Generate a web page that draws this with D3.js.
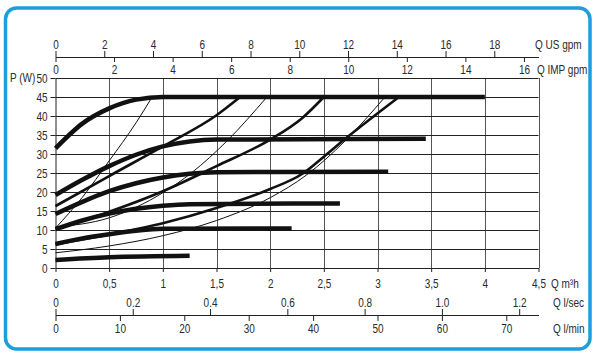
<!DOCTYPE html>
<html><head><meta charset="utf-8">
<script src="https://cdn.jsdelivr.net/npm/d3@7"></script>
<style>
html,body{margin:0;padding:0;background:#fff;}
svg{display:block;}
text{font-family:"Liberation Sans",Arial,Helvetica,sans-serif;fill:#2a2a2a;font-size:12.5px;}
</style></head><body>
<svg id="c" width="594" height="354"></svg>
<script>
// ---- axis ticks / labels ----
const qM3hTicks = [0, 0.5, 1, 1.5, 2, 2.5, 3, 3.5, 4, 4.5];
const qM3hLabels = ["0", "0,5", "1", "1,5", "2", "2,5", "3", "3,5", "4", "4,5"];
const pTicks = [0, 5, 10, 15, 20, 25, 30, 35, 40, 45, 50];
const usGpmTicks = [0, 2, 4, 6, 8, 10, 12, 14, 16, 18];
const impGpmTicks = [0, 2, 4, 6, 8, 10, 12, 14, 16];
const lsecTicks = [0, 0.2, 0.4, 0.6, 0.8, 1.0, 1.2];
const lsecLabels = ["0", "0.2", "0.4", "0.6", "0.8", "1.0", "1.2"];
const lminTicks = [0, 10, 20, 30, 40, 50, 60, 70];

// ---- curves: [Q m3/h, P W] ----
const speedA = [[0,31.5],[0.25,38],[0.5,42],[0.75,44.3],[1.0,45],[4.0,45]];
const speedB = [[0,19.2],[0.25,23.2],[0.5,26.8],[0.75,29.8],[1.0,32],[1.25,33.3],[1.5,33.8],[3.45,34]];
const speedC = [[0,14.2],[0.25,17.4],[0.5,20.2],[0.75,22.3],[1.0,23.8],[1.25,24.8],[1.5,25.2],[3.1,25.3]];
const speedD = [[0,10.2],[0.25,12.5],[0.5,14.3],[0.75,15.6],[1.0,16.4],[1.25,16.8],[2.65,17]];
const speedE = [[0,6.3],[0.25,7.8],[0.5,8.9],[0.75,9.8],[1.0,10.3],[2.2,10.4]];
const speedF = [[0,2.1],[0.5,2.8],[1.25,3.2]];
const ctrl1 = [[0,16.3],[0.5,24.2],[1.0,32],[1.5,40.2],[1.72,45]];
const ctrl2 = [[0,10.3],[0.5,14.8],[1.0,20.2],[1.5,26.8],[2.0,33.8],[2.3,39.5],[2.5,45]];
const ctrl3 = [[0,6.2],[0.5,8.8],[1.0,11.8],[1.5,15.8],[2.0,20.8],[2.3,24.8],[2.5,29.3],[2.7,34],[3.2,45]];
const thin1 = [[0,10.5],[0.25,18.6],[0.5,28.2],[0.75,38.2],[0.9,45]];
const thin2 = [[0,10.8],[0.5,13.2],[1.0,19.8],[1.27,25.1],[1.6,33.5],[1.97,45]];
const thin3 = [[0,4],[0.5,5.8],[1.0,8.5],[1.5,12.5],[2.0,18.5],[2.34,24.5],[2.7,33.5],[3.07,45]];

const SX = 0.8; // condensed look
const svg = d3.select("#c");
const X0 = 55.5, X1 = 538.5, Y0 = 268, Y1 = 78;
const x = d3.scaleLinear().domain([0, 4.5]).range([X0, X1]);
const y = d3.scaleLinear().domain([0, 50]).range([Y0, Y1]);
const xUS = d3.scaleLinear().domain([0, 4.5 * 4.403]).range([X0, X1]);
const xIMP = d3.scaleLinear().domain([0, 4.5 * 3.666]).range([X0, X1]);
const xLs = d3.scaleLinear().domain([0, 4.5 / 3.6]).range([X0, X1]);
const xLm = d3.scaleLinear().domain([0, 4.5 / 0.06]).range([X0, X1]);

// frame
svg.append("rect").attr("x", 5.5).attr("y", 8).attr("width", 584.5).attr("height", 341)
  .attr("rx", 11).attr("fill", "#fff").attr("stroke", "#1e9fda").attr("stroke-width", 3.5);

// grid
svg.append("g").selectAll("line").data(qM3hTicks.slice(1)).join("line")
  .attr("x1", d => Math.round(x(d)) + 0.5).attr("x2", d => Math.round(x(d)) + 0.5)
  .attr("y1", Y1).attr("y2", Y0).attr("stroke", "#555").attr("stroke-width", 1);
svg.append("g").selectAll("line").data(pTicks.slice(1)).join("line")
  .attr("x1", X0).attr("x2", X1).attr("y1", d => Math.round(y(d)) + 0.5).attr("y2", d => Math.round(y(d)) + 0.5)
  .attr("stroke", "#222").attr("stroke-width", 1);

function styleAxis(g) {
  g.selectAll("path,line").attr("stroke", "#222");
  g.selectAll("text").attr("font-size", 12.5).attr("fill", "#2a2a2a").attr("font-family", null)
    .each(function () {
      const t = d3.select(this);
      const xx = +t.attr("x") || 0;
      t.attr("x", xx / SX).attr("transform", `scale(${SX},1)`);
    });
}

// left axis
svg.append("g").attr("transform", `translate(${X0},0)`)
  .call(d3.axisLeft(y).tickValues(pTicks).tickSize(5).tickSizeOuter(0).tickPadding(3))
  .call(styleAxis);
// bottom m3/h axis
svg.append("g").attr("transform", `translate(0,${Y0})`)
  .call(d3.axisBottom(x).tickValues(qM3hTicks).tickFormat((d, i) => qM3hLabels[i]).tickSize(4).tickSizeOuter(0).tickPadding(7))
  .call(styleAxis);

// top gpm axes
const TOPY = 57;
svg.append("g").attr("transform", `translate(0,${TOPY})`)
  .call(d3.axisTop(xUS).tickValues(usGpmTicks).tickFormat(d3.format("d")).tickSize(6).tickSizeOuter(0).tickPadding(2))
  .call(styleAxis);
svg.append("g").attr("transform", `translate(0,${TOPY})`)
  .call(d3.axisBottom(xIMP).tickValues(impGpmTicks).tickFormat(d3.format("d")).tickSize(5).tickSizeOuter(0).tickPadding(3))
  .call(styleAxis).call(g => g.select(".domain").remove());

// bottom l/sec, l/min axes
const BOTY = 315;
svg.append("g").attr("transform", `translate(0,${BOTY})`)
  .call(d3.axisTop(xLs).tickValues(lsecTicks).tickFormat((d, i) => lsecLabels[i]).tickSize(6).tickSizeOuter(0).tickPadding(2))
  .call(styleAxis);
svg.append("g").attr("transform", `translate(0,${BOTY})`)
  .call(d3.axisBottom(xLm).tickValues(lminTicks).tickFormat(d3.format("d")).tickSize(6).tickSizeOuter(0).tickPadding(3))
  .call(styleAxis).call(g => g.select(".domain").remove());

// unit labels
const labels = [
  ["P (W)", 10, 82, 11.5], ["Q US gpm", 535, 49, 12.5], ["Q IMP gpm", 537, 74, 12.5],
  ["Q m\u00B3h", 551, 288, 12.5], ["Q l/sec", 553, 307, 12.5], ["Q l/min", 553, 333, 12.5]
];
svg.append("g").selectAll("text").data(labels).join("text")
  .attr("font-size", d => d[3])
  .attr("transform", d => `translate(${d[1]},${d[2]}) scale(${SX},1)`).text(d => d[0]);

// curves
const line = d3.line().x(d => x(d[0])).y(d => y(d[1])).curve(d3.curveMonotoneX);
const curves = [
  [thin1, 1], [thin2, 1], [thin3, 1],
  [ctrl1, 2.6], [ctrl2, 2.6], [ctrl3, 2.6],
  [speedF, 4.5], [speedE, 4.5], [speedD, 4.5], [speedC, 4.5], [speedB, 4.5], [speedA, 4.5]
];
svg.append("g").selectAll("path").data(curves).join("path")
  .attr("d", d => line(d[0])).attr("fill", "none").attr("stroke", "#111")
  .attr("stroke-width", d => d[1]).attr("stroke-linecap", "butt");
</script>
</body></html>
